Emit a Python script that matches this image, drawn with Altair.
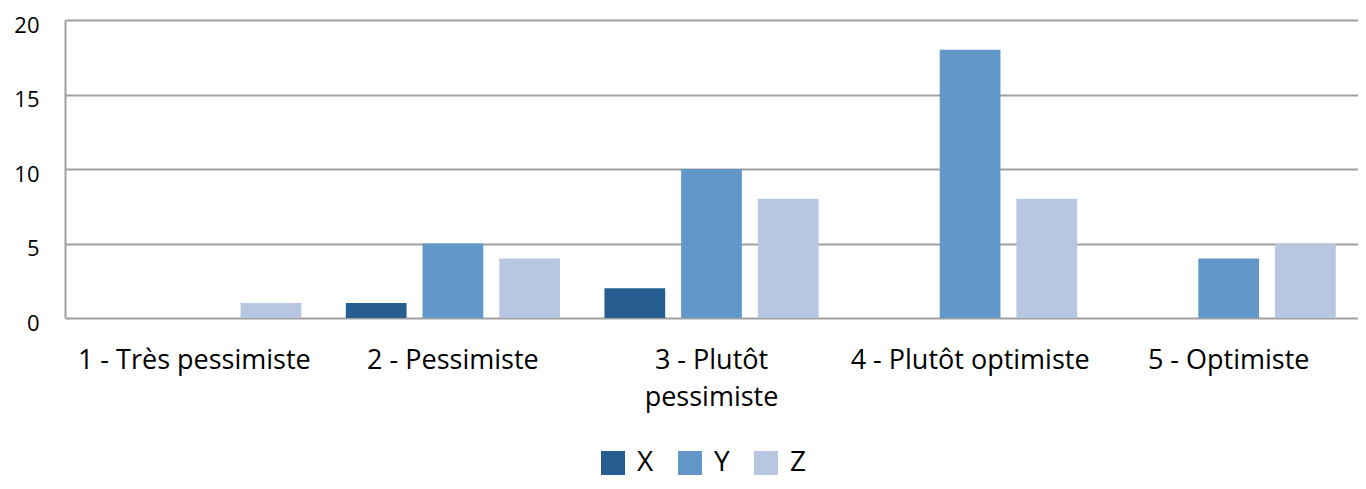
import altair as alt
import pandas as pd

categories = ["1 - Très pessimiste", "2 - Pessimiste", "3 - Plutôt pessimiste", "4 - Plutôt optimiste", "5 - Optimiste"]
series = ["X", "Y", "Z"]
x_values = [0, 1, 2, 0, 0]
y_values = [0, 5, 10, 18, 4]
z_values = [1, 4, 8, 8, 5]
colors = ["#275e92", "#6197c9", "#b8c7e1"]

rows = []
for i, c in enumerate(categories):
    for s, vals in zip(series, [x_values, y_values, z_values]):
        rows.append({"cat": c, "series": s, "value": vals[i]})
df = pd.DataFrame(rows)

FONT = "Open Sans"

chart = alt.Chart(df).mark_bar().encode(
    x=alt.X("cat:N", sort=categories, title=None,
            scale=alt.Scale(paddingInner=0, paddingOuter=0),
            axis=alt.Axis(labelAngle=0, labelFontSize=27, labelFont=FONT, labelColor="#000",
                          labelPadding=42, ticks=False, domain=False, labelLimit=400,
                          labelLineHeight=37, labelBaseline="middle",
                          labelExpr="datum.label == '3 - Plutôt pessimiste' ? ['3 - Plutôt', 'pessimiste'] : datum.label")),
    xOffset=alt.XOffset("series:N", sort=series,
                        scale=alt.Scale(paddingInner=0.208, paddingOuter=0.29)),
    y=alt.Y("value:Q", title=None,
            scale=alt.Scale(domain=[0, 20]),
            axis=alt.Axis(values=[0, 5, 10, 15, 20], labelFontSize=22, labelFont=FONT, labelColor="#000",
                          labelPadding=26, labelOffset=5, ticks=False, domain=True, domainColor="#a0a0a0",
                          domainWidth=2, gridColor="#a0a0a0", gridWidth=2)),
    color=alt.Color("series:N", sort=series, scale=alt.Scale(domain=series, range=colors),
                    legend=alt.Legend(title=None, orient="none", direction="horizontal",
                                      legendX=534, legendY=429,
                                      symbolType="square", symbolSize=576, symbolStrokeWidth=0,
                                      labelFontSize=28, labelFont=FONT, labelColor="#000",
                                      columnPadding=22, labelOffset=10)),
).properties(
    width=1293, height=298,
    autosize=alt.AutoSizeParams(type="none"),
    padding={"left": 57, "top": 12, "right": 0, "bottom": 162},
).configure_view(stroke=None).configure(background="white")

chart.save("out.html", embed_options={"renderer": "svg", "actions": False})
